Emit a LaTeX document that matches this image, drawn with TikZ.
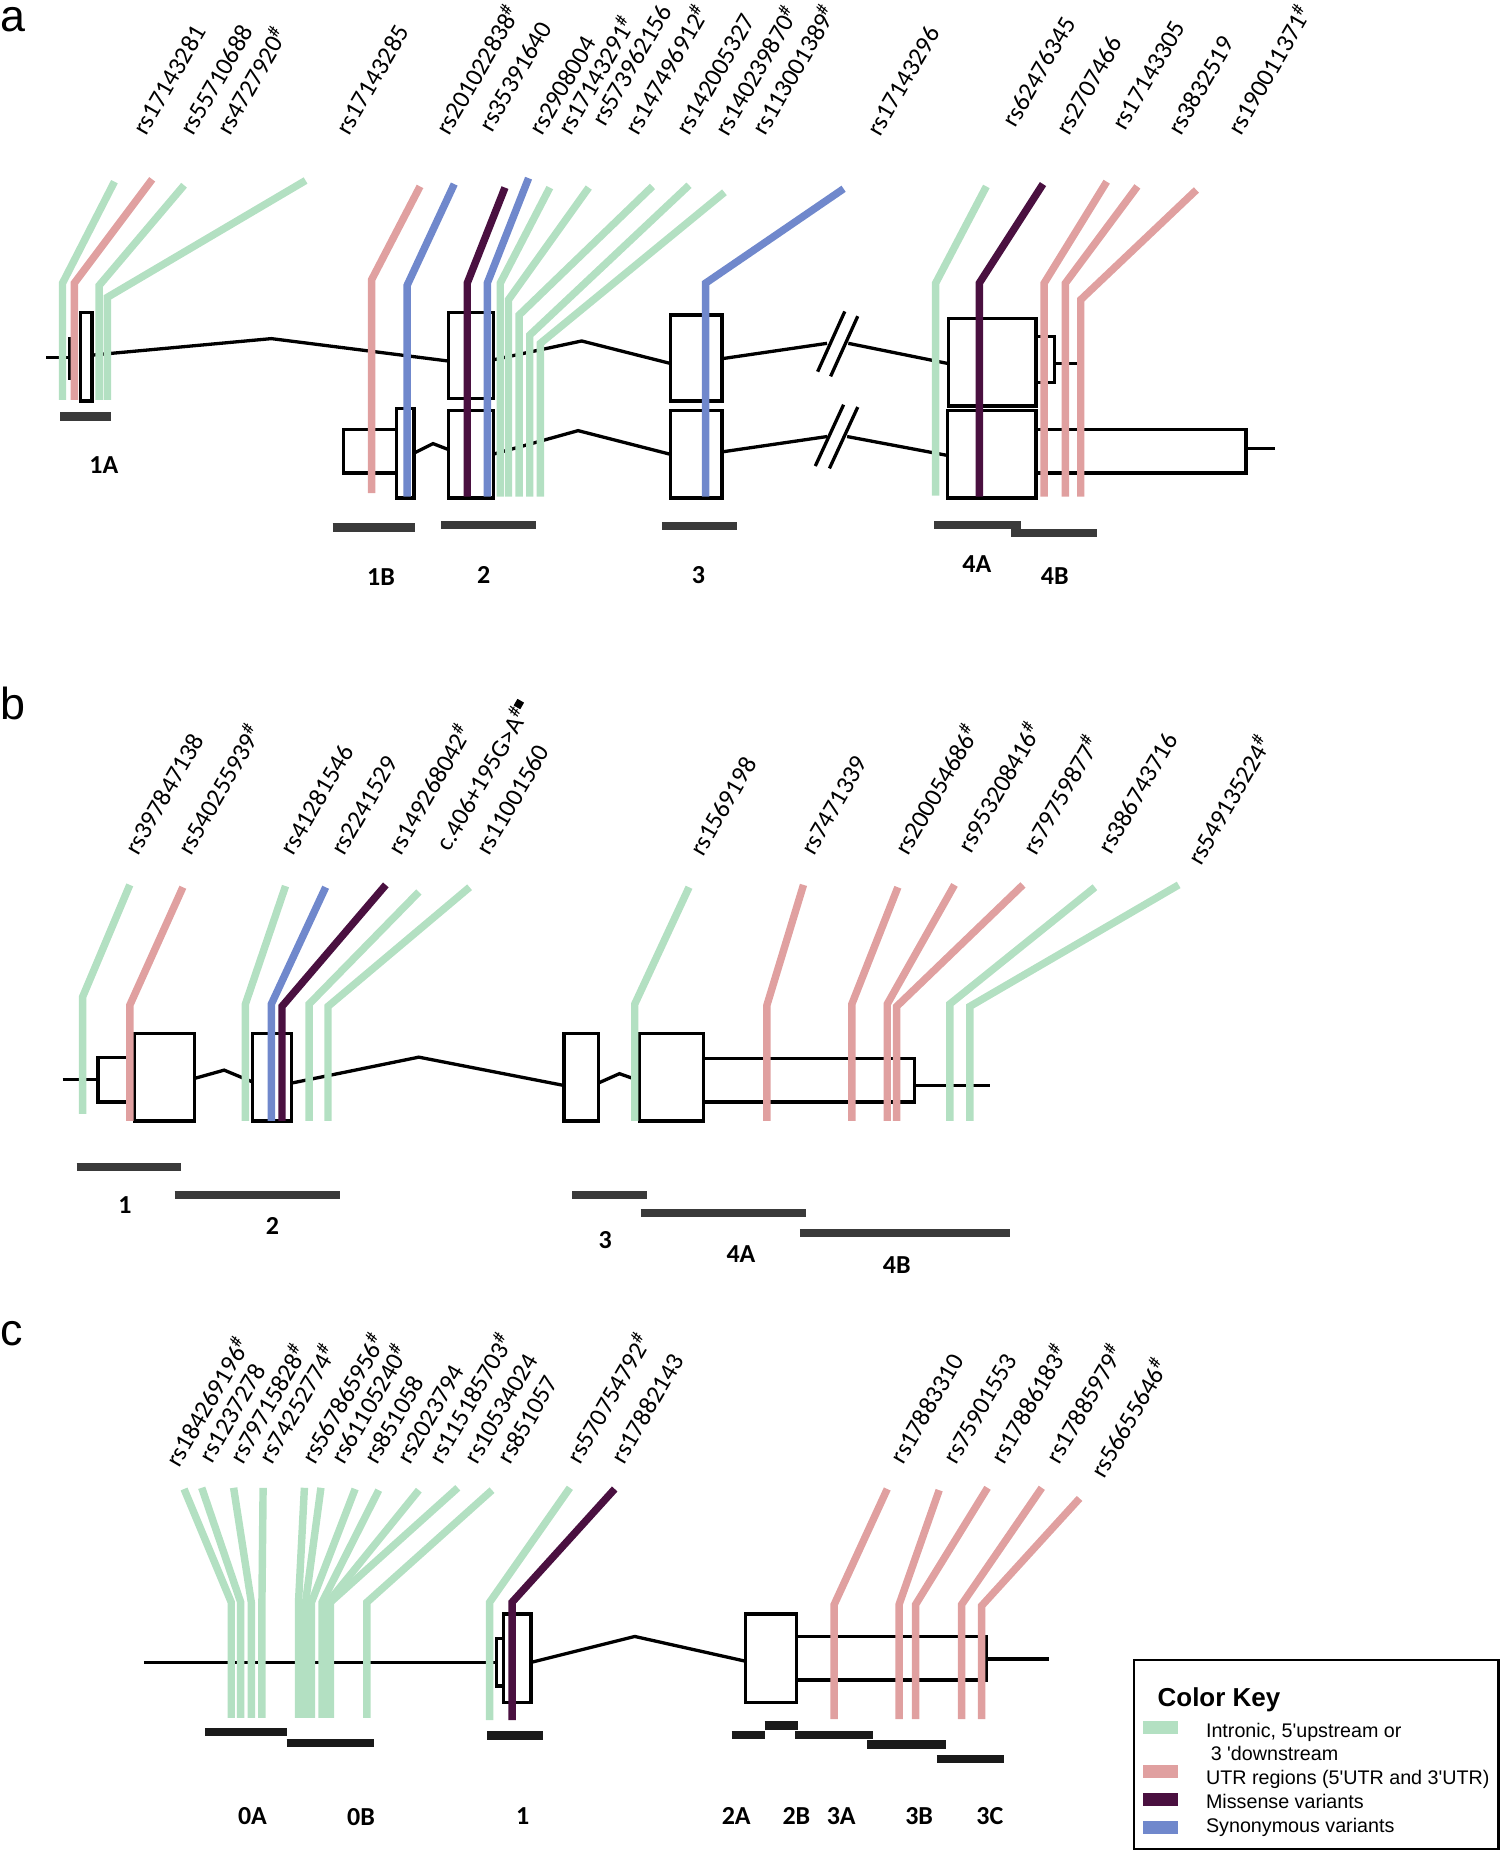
\documentclass[tikz,border=0pt]{standalone}
\usepackage{fontspec}
\setmainfont{Carlito}
\newfontfamily\keyfont{Liberation Sans}
\usepackage{tikz}

\definecolor{intron}{RGB}{179,224,194}
\definecolor{utr}{RGB}{224,160,160}
\definecolor{missense}{RGB}{74,16,64}
\definecolor{synon}{RGB}{112,136,204}
\definecolor{bargray}{RGB}{58,58,58}
\definecolor{bardark}{RGB}{26,26,26}

\newcommand{\hsh}{\textsuperscript{\#}}
\newcommand{\sqmark}{\raisebox{0.42em}{\rule{0.3em}{0.3em}}}

\begin{document}
\begin{tikzpicture}[x=1pt, y=-1pt,
	gene/.style={line width=2.8pt, line join=miter},
	exon/.style={draw, fill=white, line width=2.8pt},
	snpline/.style={line width=6.3pt, line join=miter},
	snp/.style={xshift=8pt, rotate=60, anchor=base west, inner sep=0pt, font=\fontsize{21.5}{21.5}\selectfont},
	seg/.style={inner sep=0pt, font=\bfseries\fontsize{22}{22}\selectfont},
	bar/.style={line width=7pt, bargray},
	panel/.style={anchor=base west, inner sep=0pt, font=\keyfont\fontsize{38}{38}\selectfont},
	keytext/.style={anchor=base west, inner sep=0pt, font=\keyfont\fontsize{16.7}{19.7}\selectfont}]
	\useasboundingbox (0,0) rectangle (1271,1568);

	% panel a
	\node[panel] (pa) at (0,27) {a};
	\draw[gene] (39,303) -- (59,303);
	\draw[gene] (59,286) -- (59,322);
	\draw[exon] (68,265) rectangle (78,340);
	\draw[gene] (78,301) -- (230,287) -- (380,306);
	\draw[exon] (380,265) rectangle (418,338);
	\draw[gene] (418,305) -- (493,289) -- (568,308);
	\draw[exon] (568,267) rectangle (612,340);
	\draw[gene] (612,304) -- (701,291);
	\draw[gene] (719,291) -- (803,308);
	\draw[gene] (693,315) -- (716,264) (704,319) -- (727,268);
	\draw[exon] (804,270) rectangle (878,344);
	\draw[exon] (878,285) rectangle (894,324);
	\draw[gene] (894,308) -- (918,308);

	\draw[exon] (291,364) rectangle (336,401);
	\draw[exon] (336,346) rectangle (351,422);
	\draw[gene] (351,384) -- (367,376) -- (380,381);
	\draw[exon] (380,348) rectangle (418,422);
	\draw[gene] (418,385) -- (490,365) -- (568,385);
	\draw[exon] (568,348) rectangle (612,422);
	\draw[gene] (612,383) -- (701,370);
	\draw[gene] (718,370) -- (803,386);
	\draw[gene] (691,395) -- (715,343) (703,397) -- (727,345);
	\draw[exon] (803,348) rectangle (878,422);
	\draw[exon] (878,364) rectangle (1056,401);
	\draw[gene] (1056,380) -- (1081,380);

	\foreach \tx/\ty/\bx/\by/\bb/\cl in {
		97/154/53/240/339/intron, 129/152/63/240/339/utr,
		156/157/84/242/339/intron, 259/153/91/252/339/intron,
		356/158/315/237/418/utr, 385/156/345/242/421/synon,
		428/159/396/240/421/missense, 448/151/413/240/421/synon,
		466/159/424/240/421/intron, 499/159/431/254/421/intron,
		553/158/440/267/421/intron, 584/157/449/284/421/intron,
		614/163/458/291/421/intron, 715/160/598/240/421/synon,
		836/158/793/240/420/intron, 884/156/830/240/421/missense,
		938/154/885/240/421/utr, 964/158/903/240/421/utr,
		1014/161/916/254/421/utr}
		\draw[snpline, \cl] (\tx,\ty) -- (\bx,\by) -- (\bx,\bb);

	\foreach \lx/\ly/\lt [count=\i] in {
		116/116/rs17143281, 156/116/rs55710688, 187/116/rs4727920\hsh,
		288/116/rs17143285, 373/116/rs201022838\hsh, 409/113/rs35391640,
		452/116/rs2908004, 476/116/rs17143291\hsh, 505/108/rs573962156,
		533/116/rs147496912\hsh, 576/116/rs142005327, 609/117/rs140239870\hsh,
		641/116/rs113001389\hsh, 738/117/rs17143296, 853/109/rs62476345,
		898/116/rs2707466, 946/112/rs17143305, 993/116/rs3832519,
		1044/116/rs190011371\hsh}
		\node[snp] (la\i) at (\lx,\ly) {\lt};

	\draw[bar] (51,353) -- (94,353);
	\draw[bar] (282,447) -- (352,447);
	\draw[bar] (374,445) -- (454,445);
	\draw[bar] (561,446) -- (625,446);
	\draw[bar] (792,445) -- (865,445);
	\draw[bar] (857,452) -- (930,452);
	\node[seg] (sa1A) at (88,394) {1A};
	\node[seg] (sa1B) at (323,489) {1B};
	\node[seg] (sa2) at (410,487) {2};
	\node[seg] (sa3) at (592,487) {3};
	\node[seg] (sa4A) at (828,478) {4A};
	\node[seg] (sa4B) at (894,488) {4B};

	% panel b
	\node[panel] (pb) at (0,610) {b};
	\draw[gene] (53,915) -- (83,915);
	\draw[exon] (83,896) rectangle (114,934);
	\draw[exon] (114,876) rectangle (165,950);
	\draw[gene] (165,914) -- (190,907) -- (214,917);
	\draw[exon] (214,876) rectangle (247,950);
	\draw[gene] (247,918) -- (355,896) -- (478,920);
	\draw[exon] (478,876) rectangle (507,950);
	\draw[gene] (507,918) -- (525,910) -- (542,916);
	\draw[exon] (542,876) rectangle (596,950);
	\draw[exon] (596,897) rectangle (775,934);
	\draw[gene] (775,920) -- (839,920);

	\foreach \tx/\ty/\bx/\by/\bb/\cl in {
		110/750/70/845/944/intron, 155/752/110/852/950/utr,
		242/751/208/851/950/intron, 276/752/230/851/950/synon,
		327/750/239/853/950/missense, 355/756/262/851/950/intron,
		398/752/278/853/950/intron, 584/752/538/851/950/intron,
		681/750/650/852/950/utr, 761/752/722/851/950/utr,
		809/750/752/851/950/utr, 867/750/760/853/950/utr,
		928/752/805/851/950/intron, 999/750/822/853/950/intron}
		\draw[snpline, \cl] (\tx,\ty) -- (\bx,\by) -- (\bx,\bb);

	\foreach \lx/\ly/\lt [count=\i] in {
		109/726/rs397847138, 154/726/rs540255939\hsh, 241/726/rs41281546,
		284/726/rs2241529, 332/726/rs149268042\hsh, 373/723/c.406+195G>A\hsh\sqmark,
		407/726/rs11001560, 588/727/rs1569198, 682/726/rs7471339,
		762/726/rs200054686\hsh, 815/724/rs953208416\hsh, 870/726/rs79759877\hsh,
		934/725/rs386743716, 1010/735/rs549135224\hsh}
		\node[snp] (lb\i) at (\lx,\ly) {\lt};

	\draw[bar] (65,989) -- (153,989);
	\draw[bar] (148,1013) -- (288,1013);
	\draw[bar] (485,1013) -- (548,1013);
	\draw[bar] (543,1028) -- (683,1028);
	\draw[bar] (678,1045) -- (856,1045);
	\node[seg] (sb1) at (106,1021) {1};
	\node[seg] (sb2) at (231,1039) {2};
	\node[seg] (sb3) at (513,1051) {3};
	\node[seg] (sb4A) at (628,1063) {4A};
	\node[seg] (sb4B) at (760,1072) {4B};

	% panel c
	\node[panel] (pc) at (0,1140) {c};
	\draw[gene] (122,1409) -- (421,1409);
	\draw[exon] (421,1389) rectangle (428,1429);
	\draw[exon] (427,1368) rectangle (450,1443);
	\draw[gene] (450,1409) -- (538,1387) -- (632,1408);
	\draw[exon] (632,1368) rectangle (675,1443);
	\draw[exon] (675,1387) rectangle (836,1424);
	\draw[gene] (836,1406) -- (889,1406);

	\foreach \tx/\ty/\bx/\by/\bb/\cl in {
		156/1262/196/1358/1456/intron, 171/1261/204/1358/1456/intron,
		198/1261/213/1358/1456/intron, 223/1261/222/1358/1456/intron,
		258/1261/253/1358/1456/intron, 272/1261/259/1358/1456/intron,
		301/1262/264/1358/1456/intron, 321/1263/273/1358/1456/intron,
		355/1263/278/1358/1456/intron, 388/1261/280/1358/1456/intron,
		417/1263/311/1358/1456/intron, 483/1261/415/1358/1458/intron,
		521/1262/434/1358/1458/missense, 752/1262/707/1360/1457/utr,
		796/1263/762/1360/1457/utr, 837/1261/776/1360/1457/utr,
		883/1261/815/1360/1457/utr, 915/1270/832/1361/1457/utr}
		\draw[snpline, \cl] (\tx,\ty) -- (\bx,\by) -- (\bx,\bb);

	\foreach \lx/\ly/\lt [count=\i] in {
		144/1245/rs184269196\hsh, 172/1241/rs1237278, 198/1242/rs79715828\hsh,
		223/1242/rs74252774\hsh, 259/1242/rs567865956\hsh, 284/1242/rs61105240\hsh,
		312/1242/rs851058, 340/1242/rs2023794, 367/1242/rs115185703\hsh,
		397/1242/rs10534024, 425/1242/rs851057, 484/1242/rs570754792\hsh,
		521/1242/rs17882143, 758/1242/rs17883310, 803/1242/rs75901553,
		843/1242/rs17886183\hsh, 890/1242/rs17885979\hsh, 928/1254/rs56655646\hsh}
		\node[snp] (lc\i) at (\lx,\ly) {\lt};

	\draw[bar, bardark] (174,1468) -- (243,1468);
	\draw[bar, bardark] (243,1477) -- (317,1477);
	\draw[bar, bardark] (413,1471) -- (460,1471);
	\draw[bar, bardark] (620,1470.5) -- (648,1470.5);
	\draw[bar, bardark] (648,1462.5) -- (676,1462.5);
	\draw[bar, bardark] (674,1470.5) -- (740,1470.5);
	\draw[bar, bardark] (735,1478.5) -- (802,1478.5);
	\draw[bar, bardark] (794,1491) -- (851,1491);
	\node[seg] (sc0A) at (214,1539) {0A};
	\node[seg] (sc0B) at (306,1540) {0B};
	\node[seg] (sc1) at (443,1539) {1};
	\node[seg] (sc2A) at (624,1539) {2A};
	\node[seg] (sc2B) at (675,1539) {2B};
	\node[seg] (sc3A) at (713,1539) {3A};
	\node[seg] (sc3B) at (779,1539) {3B};
	\node[seg] (sc3C) at (839,1539) {3C};

	% color key
	\draw[line width=2pt] (961,1407) rectangle (1270,1567);
	\node[anchor=base west, inner sep=0pt, font=\keyfont\bfseries\fontsize{22}{22}\selectfont] (keytitle) at (981,1446) {Color Key};
	\fill[intron] (969,1459) rectangle (998,1470);
	\fill[utr] (969,1496) rectangle (998,1507);
	\fill[missense] (969,1520) rectangle (998,1531);
	\fill[synon] (969,1543) rectangle (998,1554);
	\node[keytext] (k1) at (1022,1472.5) {Intronic, 5\textquotesingle upstream or};
	\node[keytext] (k1b) at (1026,1492.2) {3 \textquotesingle downstream};
	\node[keytext] (k2) at (1022,1512.6) {UTR regions (5\textquotesingle UTR and 3\textquotesingle UTR)};
	\node[keytext] (k3) at (1022,1533.2) {Missense variants};
	\node[keytext] (k4) at (1022,1553) {Synonymous variants};
\end{tikzpicture}
\end{document}
